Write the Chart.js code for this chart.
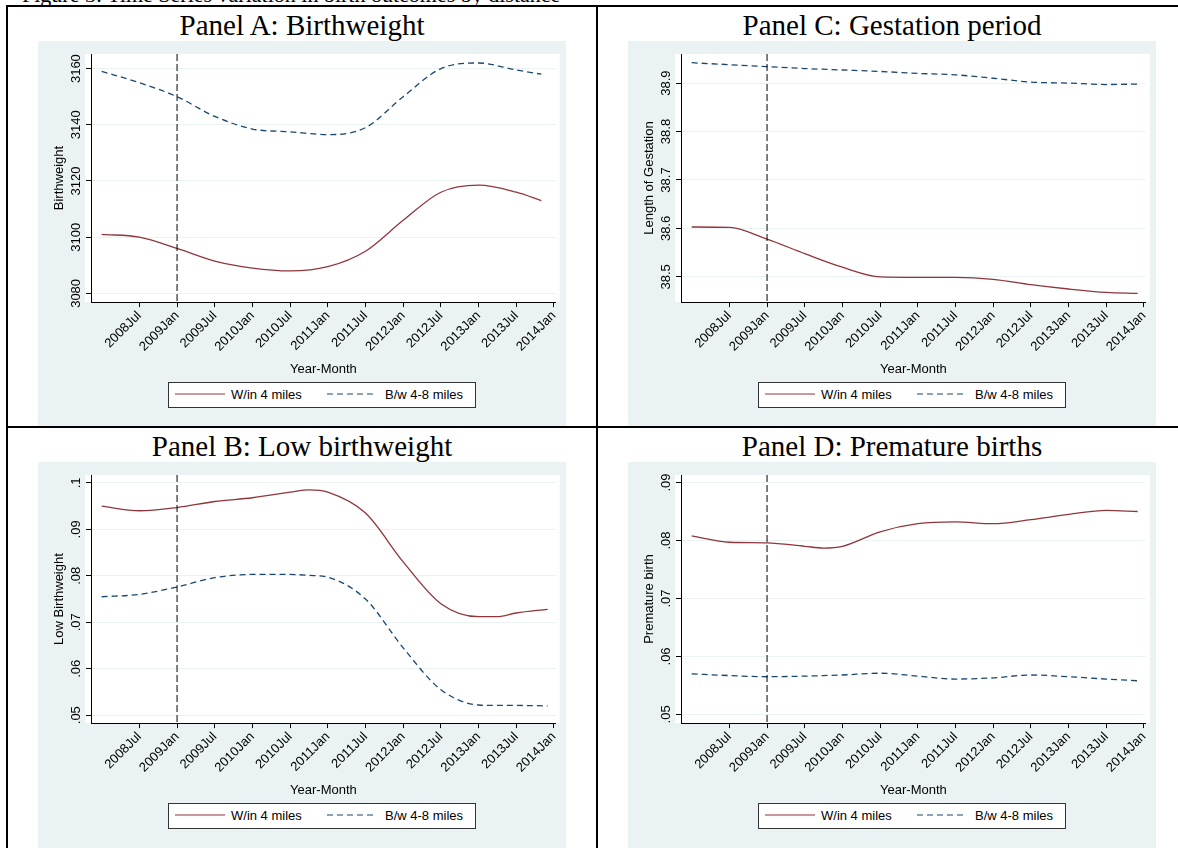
<!DOCTYPE html>
<html>
<head>
<meta charset="utf-8">
<script src="https://cdn.jsdelivr.net/npm/chart.js@4.4.0/dist/chart.umd.min.js"></script>
<style>
  body { margin: 0; background: #fff; width: 1178px; height: 848px; overflow: hidden; position: relative; font-family: "Liberation Sans", Arial, sans-serif; }
  .caption { position: absolute; left: 22px; top: -18px; font: 22px "Liberation Serif", "Times New Roman", serif; white-space: nowrap; }
  .line { position: absolute; background: #000; }
  .title { position: absolute; width: 604px; text-align: center; font: 29px "Liberation Serif", "Times New Roman", serif; line-height: 34px; }
  .bg { position: absolute; background: #eaf2f3; }
  .chartbox { position: absolute; }
  .legend { position: absolute; border: 1px solid #333; background: #fff; height: 24px; width: 306px; font-size: 13px; white-space: nowrap; }
  .legend svg { position: absolute; top: 9px; }
  .legend b { position: absolute; top: 4px; font-weight: normal; }
</style>
</head>
<body>
<div class="caption">Figure 3: Time Series variation in birth outcomes by distance</div>

<script>
// months counted from 2008Jan = 0
const tickMonths = [6, 12, 18, 24, 30, 36, 42, 48, 54, 60, 66, 72];
const tickLabels = ['2008Jul', '2009Jan', '2009Jul', '2010Jan', '2010Jul', '2011Jan',
                    '2011Jul', '2012Jan', '2012Jul', '2013Jan', '2013Jul', '2014Jan'];
const treatMonth = 12;

// Panel A: Birthweight
const monthsA = [0, 6, 12, 18, 24, 30, 36, 42, 48, 54, 60, 66, 70];
const nearA = [3101, 3100, 3096, 3091.5, 3089, 3088, 3089.5, 3095, 3106, 3116, 3118.5, 3116, 3113];
const farA  = [3159, 3155, 3150, 3143, 3138.5, 3137.5, 3136.5, 3139, 3150, 3160, 3162, 3159.5, 3158];
const yTicksA = [3080, 3100, 3120, 3140, 3160];

// Panel C: Gestation period
const monthsC = [0, 6, 12, 18, 24, 30, 36, 42, 48, 54, 60, 66, 71];
const nearC = [38.603, 38.602, 38.578, 38.548, 38.52, 38.50, 38.499, 38.499, 38.495, 38.484, 38.475, 38.468, 38.466];
const farC  = [38.942, 38.938, 38.934, 38.930, 38.927, 38.924, 38.920, 38.917, 38.910, 38.902, 38.900, 38.897, 38.898];
const yTicksC = [38.5, 38.6, 38.7, 38.8, 38.9];

// Panel B: Low birthweight
const monthsB = [0, 6, 12, 18, 24, 30, 33, 36, 42, 48, 54, 60, 63, 66, 71];
const nearB = [.095, .094, .0947, .096, .0968, .098, .0985, .098, .0935, .083, .074, .0712, .0712, .072, .0728];
const farB  = [.0755, .076, .0776, .0796, .0803, .0803, .0801, .0797, .075, .0645, .0555, .0522, .0521, .0521, .052];
const yTicksB = [.05, .06, .07, .08, .09, .1];

// Panel D: Premature births
const monthsD = [0, 6, 12, 18, 21, 24, 30, 36, 42, 48, 54, 60, 66, 71];
const nearD = [.0808, .0797, .0796, .079, .0787, .079, .0815, .0829, .0832, .0829, .0836, .0845, .0852, .085];
const farD  = [.0570, .0567, .0565, .0566, .0567, .0568, .0571, .0566, .0561, .0563, .0568, .0565, .0561, .0558];
const yTicksD = [.05, .06, .07, .08, .09];

const nearLabel = 'W/in 4 miles';
const farLabel = 'B/w 4-8 miles';
const redColor = '#90353b';
const blueColor = '#1a476f';

function fmtShort(v) {
    return String(v).replace(/^0\./, '.');
}

const panels = [
    { title: 'Panel A: Birthweight', yTitle: 'Birthweight', x: 0, y: 6, months: monthsA, near: nearA, far: farA,
      yTicks: yTicksA, yMin: 3076.9, yMax: 3165.2, fmt: v => String(v) },
    { title: 'Panel C: Gestation period', yTitle: 'Length of Gestation', x: 590, y: 6, months: monthsC, near: nearC, far: farC,
      yTicks: yTicksC, yMin: 38.448, yMax: 38.96, fmt: v => v.toFixed(1) },
    { title: 'Panel B: Low birthweight', yTitle: 'Low Birthweight', x: 0, y: 427, months: monthsB, near: nearB, far: farB,
      yTicks: yTicksB, yMin: .0483, yMax: .1017, fmt: fmtShort },
    { title: 'Panel D: Premature births', yTitle: 'Premature birth', x: 590, y: 427, months: monthsD, near: nearD, far: farD,
      yTicks: yTicksD, yMin: .0485, yMax: .0913, fmt: fmtShort }
];

// tick label formatter per canvas (kept out of options so it is not treated as scriptable)
const formatters = new WeakMap();

// draws white plot region, rotated y tick labels and the dashed policy line
const panelPlugin = {
    id: 'panelPlugin',
    beforeDraw(chart) {
        const a = chart.chartArea, ctx = chart.ctx;
        ctx.save();
        ctx.fillStyle = '#fff';
        ctx.fillRect(a.left - 6, a.top, a.right - a.left + 10, a.bottom - a.top);
        ctx.restore();
    },
    afterDraw(chart) {
        const a = chart.chartArea, ctx = chart.ctx;
        const ys = chart.scales.y, xs = chart.scales.x;
        const fmt = formatters.get(chart.canvas);
        ctx.save();
        ctx.fillStyle = '#000';
        ctx.font = '13px "Liberation Sans", Arial, sans-serif';
        ctx.textAlign = 'center';
        ctx.textBaseline = 'bottom';
        ys.ticks.forEach(t => {
            const py = ys.getPixelForValue(t.value);
            ctx.save();
            ctx.translate(a.left - 8, py);
            ctx.rotate(-Math.PI / 2);
            ctx.fillText(fmt(t.value), 0, 0);
            ctx.restore();
        });
        const px = xs.getPixelForValue(treatMonth);
        ctx.strokeStyle = '#000';
        ctx.lineWidth = 1;
        ctx.setLineDash([7, 3]);
        ctx.beginPath();
        ctx.moveTo(px, a.top);
        ctx.lineTo(px, a.bottom);
        ctx.stroke();
        ctx.restore();
    }
};

function legendSwatch(color, dash, left) {
    return `<svg width="50" height="4" style="left:${left}px"><line x1="0" y1="2" x2="50" y2="2" stroke="${color}" stroke-width="1.2" ${dash ? 'stroke-dasharray="6,4"' : ''}/></svg>`;
}

function addEl(cls, style, html) {
    const d = document.createElement('div');
    d.className = cls;
    Object.assign(d.style, style);
    if (html) d.innerHTML = html;
    document.body.appendChild(d);
    return d;
}

panels.forEach(p => {
    addEl('title', { left: p.x + 'px', top: p.y + 2 + 'px' }, p.title);
    addEl('bg', { left: p.x + 38 + 'px', top: p.y + 35 + 'px', width: '528px', height: '386px' });
    const box = addEl('chartbox', { left: p.x + 38 + 'px', top: p.y + 35 + 'px', width: '528px', height: '336px' });
    const canvas = document.createElement('canvas');
    box.appendChild(canvas);
    formatters.set(canvas, p.fmt);
    addEl('legend', { left: p.x + 168 + 'px', top: p.y + 376 + 'px' },
        legendSwatch(redColor, false, 6) + `<b style="left:62px">${nearLabel}</b>` +
        legendSwatch(blueColor, true, 158) + `<b style="left:216px">${farLabel}</b>`);

    new Chart(canvas.getContext('2d'), {
        type: 'line',
        data: {
            datasets: [
                { label: nearLabel, data: p.months.map((m, i) => ({ x: m, y: p.near[i] })),
                  borderColor: redColor, borderWidth: 1.3, pointRadius: 0, cubicInterpolationMode: 'monotone' },
                { label: farLabel, data: p.months.map((m, i) => ({ x: m, y: p.far[i] })),
                  borderColor: blueColor, borderWidth: 1.3, borderDash: [6, 4], pointRadius: 0, cubicInterpolationMode: 'monotone' }
            ]
        },
        options: {
            responsive: true,
            maintainAspectRatio: false,
            animation: false,
            layout: { padding: { top: 13, right: 10, left: 14, bottom: 0 } },
            plugins: { legend: { display: false }, tooltip: { enabled: false } },
            scales: {
                x: {
                    type: 'linear', min: -1.7, max: 72.3,
                    afterBuildTicks: s => { s.ticks = tickMonths.map(v => ({ value: v })); },
                    ticks: {
                        minRotation: 45, maxRotation: 45, color: '#000', padding: 1,
                        font: { size: 13, family: '"Liberation Sans", Arial, sans-serif' },
                        callback: v => tickLabels[tickMonths.indexOf(v)]
                    },
                    grid: { display: true, drawOnChartArea: false, tickLength: 5, tickColor: '#000' },
                    border: { color: '#000' },
                    title: { display: true, text: 'Year-Month', color: '#000', padding: { top: 6, bottom: 0 },
                             font: { size: 13, family: '"Liberation Sans", Arial, sans-serif' } }
                },
                y: {
                    min: p.yMin, max: p.yMax,
                    afterBuildTicks: s => { s.ticks = p.yTicks.map(v => ({ value: v })); },
                    afterFit: s => { s.width = 39; },
                    ticks: { display: false },
                    grid: { color: '#eaf2f3', tickLength: 5, tickColor: '#000' },
                    border: { color: '#000' },
                    title: { display: true, text: p.yTitle, color: '#000', padding: 0,
                             font: { size: 13, family: '"Liberation Sans", Arial, sans-serif' } }
                }
            }
        },
        plugins: [panelPlugin]
    });
});

// panel frame lines
addEl('line', { left: '6px', top: '5px', width: '1172px', height: '2px' });
addEl('line', { left: '6px', top: '5px', width: '2px', height: '843px' });
addEl('line', { left: '596px', top: '5px', width: '2px', height: '843px' });
addEl('line', { left: '6px', top: '426px', width: '1172px', height: '2px' });
</script>
</body>
</html>
